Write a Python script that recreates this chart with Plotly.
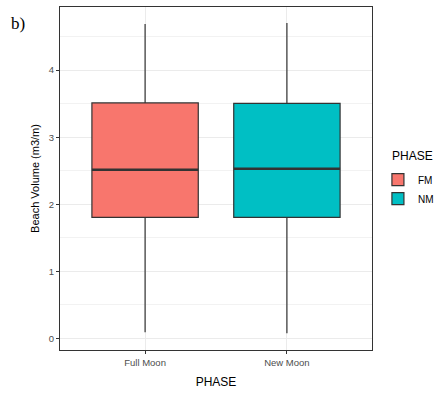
import plotly.graph_objects as go

categories = ["Full Moon", "New Moon"]
phases = ["FM", "NM"]
q1 = [1.806, 1.806]
median = [2.515, 2.53]
q3 = [3.51, 3.505]
lower = [0.092, 0.077]
upper = [4.687, 4.70]
colors = ["#F8766D", "#00BFC4"]
y_ticks = [0, 1, 2, 3, 4]

BOX_W = 0.75
fig = go.Figure()
for i, (ph, c) in enumerate(zip(phases, colors)):
    xpos = i + 1
    fig.add_trace(go.Box(
        x=[xpos], q1=[q1[i]], median=[median[i]], q3=[q3[i]],
        lowerfence=[lower[i]], upperfence=[upper[i]],
        name=ph, fillcolor=c, width=BOX_W,
        line=dict(color="#333333", width=1.2), boxpoints=False,
        whiskerwidth=0, legendgroup=ph,
    ))
    fig.add_trace(go.Scatter(
        x=[xpos - BOX_W / 2, xpos + BOX_W / 2], y=[median[i], median[i]],
        mode="lines", line=dict(color="#333333", width=2.4),
        showlegend=False, hoverinfo="skip", legendgroup=ph,
    ))

fig.update_layout(
    width=438, height=395,
    margin=dict(l=60, r=66, t=7, b=45, autoexpand=False),
    paper_bgcolor="white", plot_bgcolor="white",
    font=dict(family="Liberation Sans, Arial, sans-serif", color="#000000"),
    showlegend=True,
    legend=dict(
        font=dict(size=10, color="#000000"),
        x=1.019, xanchor="left", y=0.539, yanchor="top",
        bgcolor="rgba(0,0,0,0)", tracegroupgap=0,
    ),
    xaxis=dict(
        range=[0.4, 2.6], tickvals=[1, 2], ticktext=categories,
        showline=True, linecolor="#333333", linewidth=1.2, mirror=True,
        ticks="outside", ticklen=3, tickcolor="#333333",
        tickfont=dict(size=9.5, color="#4d4d4d"),
        showgrid=True, gridcolor="#ebebeb", gridwidth=1, zeroline=False,
        title=dict(text="PHASE", font=dict(size=12, color="#000000"), standoff=11),
    ),
    yaxis=dict(
        range=[-0.171, 4.94], tickvals=y_ticks,
        showline=True, linecolor="#333333", linewidth=1.2, mirror=True,
        ticks="outside", ticklen=3, tickcolor="#333333",
        tickfont=dict(size=9.5, color="#4d4d4d"),
        showgrid=True, gridcolor="#ebebeb", gridwidth=1, zeroline=False,
        minor=dict(dtick=0.5, showgrid=True, gridcolor="#f2f2f2", gridwidth=0.6, ticks=""),
        title=dict(text="Beach Volume (m3/m)", font=dict(size=11, color="#000000"), standoff=6),
    ),
)
fig.add_annotation(
    text="PHASE", xref="paper", yref="paper", x=(390 - 60) / 312, y=(350 - 156) / 343,
    xanchor="left", yanchor="middle", showarrow=False,
    font=dict(size=12, color="#000000"),
)
fig.add_annotation(
    text="b)", xref="paper", yref="paper", x=-0.165, y=0.985,
    xanchor="left", yanchor="top", showarrow=False,
    font=dict(family="Liberation Serif, Times New Roman, serif", size=17, color="#000000"),
)
fig.write_html(
    "out.html",
    config={"displayModeBar": False},
    post_script="document.body.style.margin='0px';document.body.style.overflow='hidden';",
)
